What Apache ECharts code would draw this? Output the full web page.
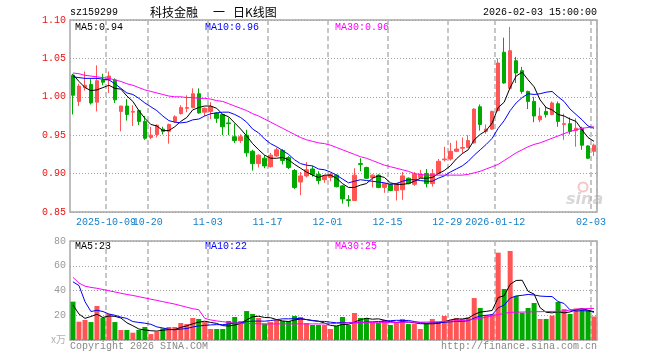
<!DOCTYPE html>
<html>
<head>
<meta charset="utf-8">
<script src="https://cdn.jsdelivr.net/npm/echarts@6/dist/echarts.min.js"></script>
<style>
html,body{margin:0;padding:0;background:#fff;}
#c{width:660px;height:360px;}
</style>
</head>
<body>
<div id="c"></div>
<script>
// ---------- data ----------
const dates = [
'2025-09-23','2025-09-24','2025-09-25','2025-09-26','2025-09-29','2025-09-30',
'2025-10-09','2025-10-10','2025-10-13','2025-10-14','2025-10-15','2025-10-16','2025-10-17',
'2025-10-20','2025-10-21','2025-10-22','2025-10-23','2025-10-24',
'2025-10-27','2025-10-28','2025-10-29','2025-10-30','2025-10-31',
'2025-11-03','2025-11-04','2025-11-05','2025-11-06','2025-11-07',
'2025-11-10','2025-11-11','2025-11-12','2025-11-13','2025-11-14',
'2025-11-17','2025-11-18','2025-11-19','2025-11-20','2025-11-21',
'2025-11-24','2025-11-25','2025-11-26','2025-11-27','2025-11-28',
'2025-12-01','2025-12-02','2025-12-03','2025-12-04','2025-12-05',
'2025-12-08','2025-12-09','2025-12-10','2025-12-11','2025-12-12',
'2025-12-15','2025-12-16','2025-12-17','2025-12-18','2025-12-19',
'2025-12-22','2025-12-23','2025-12-24','2025-12-25','2025-12-26',
'2025-12-29','2025-12-30','2025-12-31',
'2026-01-05','2026-01-06','2026-01-07','2026-01-08','2026-01-09',
'2026-01-12','2026-01-13','2026-01-14','2026-01-15','2026-01-16',
'2026-01-19','2026-01-20','2026-01-21','2026-01-22','2026-01-23',
'2026-01-26','2026-01-27','2026-01-28','2026-01-29','2026-01-30',
'2026-02-02','2026-02-03'
];
const openP = [1.028,0.994,1.012,1.016,0.993,1.022,1.022,1.022,0.981,0.988,
 0.980,0.982,0.968,0.947,0.951,0.958,0.955,0.968,0.978,0.985,
 0.986,1.004,0.980,0.981,0.979,0.977,0.966,0.948,0.943,0.950,
 0.929,0.913,0.920,0.909,0.923,0.930,0.921,0.904,0.889,0.897,
 0.906,0.899,0.892,0.895,0.898,0.884,0.866,0.865,0.913,0.908,
 0.895,0.898,0.882,0.886,0.878,0.879,0.894,0.886,0.895,0.900,
 0.887,0.900,0.918,0.919,0.929,0.933,0.934,0.940,0.987,0.955,
 0.958,0.982,1.058,1.011,1.047,1.034,1.007,0.994,0.970,0.981,
 0.977,0.991,0.964,0.965,0.956,0.959,0.936,0.929];
const closeP = [1.002,1.014,1.015,0.992,1.021,1.019,1.027,0.996,0.988,0.977,
 0.981,0.968,0.946,0.950,0.963,0.955,0.964,0.974,0.986,0.986,
 1.004,0.979,0.985,0.987,0.972,0.961,0.965,0.943,0.948,0.927,
 0.913,0.924,0.910,0.924,0.931,0.917,0.908,0.882,0.897,0.905,
 0.899,0.891,0.897,0.899,0.883,0.867,0.865,0.898,0.912,0.894,
 0.898,0.882,0.887,0.878,0.887,0.897,0.887,0.899,0.899,0.887,
 0.900,0.916,0.919,0.929,0.932,0.934,0.943,0.984,0.964,0.958,
 0.981,1.044,1.018,1.060,1.031,1.007,0.994,0.975,0.975,0.977,
 0.992,0.968,0.965,0.955,0.959,0.937,0.920,0.937];
const lowP = [0.977,0.988,1.008,0.990,0.981,1.015,1.005,0.992,0.955,0.969,
 0.962,0.963,0.944,0.945,0.947,0.951,0.939,0.966,0.977,0.980,
 0.985,0.978,0.975,0.971,0.966,0.950,0.950,0.940,0.940,0.922,
 0.904,0.908,0.907,0.908,0.922,0.912,0.906,0.880,0.872,0.895,
 0.896,0.886,0.888,0.890,0.882,0.861,0.857,0.865,0.903,0.893,
 0.882,0.881,0.875,0.877,0.865,0.866,0.886,0.884,0.894,0.882,
 0.883,0.900,0.916,0.917,0.928,0.927,0.933,0.939,0.956,0.952,
 0.957,0.981,1.017,1.010,1.018,1.004,0.984,0.967,0.967,0.973,
 0.976,0.961,0.944,0.951,0.935,0.931,0.919,0.923];
const highP = [1.030,1.017,1.033,1.023,1.041,1.030,1.033,1.024,0.988,0.997,
 0.989,0.983,0.975,0.961,0.964,0.961,0.965,0.976,0.989,1.002,
 1.011,1.011,0.986,0.993,0.980,0.978,0.973,0.965,0.951,0.957,
 0.931,0.925,0.924,0.927,0.934,0.932,0.923,0.906,0.902,0.915,
 0.910,0.903,0.898,0.901,0.899,0.885,0.872,0.907,0.920,0.909,
 0.899,0.899,0.888,0.887,0.888,0.902,0.895,0.902,0.905,0.906,
 0.906,0.919,0.935,0.940,0.943,0.947,0.950,0.985,0.990,0.964,
 0.982,1.050,1.077,1.091,1.052,1.039,1.008,1.000,0.986,0.988,
 0.994,0.994,0.978,0.973,0.972,0.961,0.937,0.939];
const ma5 = [1.029,1.020,1.012,1.008,1.009,1.012,1.015,1.011,1.010,1.001,
 0.994,0.982,0.972,0.964,0.962,0.956,0.956,0.961,0.968,0.973,
 0.983,0.986,0.988,0.988,0.985,0.977,0.974,0.966,0.958,0.949,
 0.939,0.931,0.924,0.920,0.920,0.921,0.918,0.912,0.907,0.902,
 0.898,0.895,0.898,0.898,0.894,0.887,0.882,0.882,0.885,0.887,
 0.894,0.897,0.895,0.888,0.886,0.886,0.887,0.890,0.894,0.894,
 0.895,0.900,0.904,0.910,0.919,0.926,0.931,0.944,0.951,0.956,
 0.966,0.986,0.993,1.012,1.027,1.032,1.022,1.013,0.996,0.986,
 0.983,0.977,0.975,0.971,0.968,0.957,0.947,0.942];
const ma10 = [1.026,1.025,1.024,1.024,1.024,1.023,1.022,1.017,1.011,1.005,
 1.003,0.998,0.992,0.987,0.982,0.975,0.969,0.967,0.966,0.967,
 0.970,0.971,0.975,0.978,0.979,0.980,0.980,0.977,0.973,0.967,
 0.958,0.953,0.945,0.939,0.935,0.930,0.925,0.918,0.913,0.911,
 0.910,0.906,0.905,0.902,0.898,0.893,0.888,0.890,0.892,0.891,
 0.890,0.889,0.888,0.886,0.887,0.890,0.892,0.892,0.891,0.890,
 0.890,0.894,0.897,0.902,0.906,0.910,0.916,0.924,0.931,0.938,
 0.946,0.959,0.969,0.982,0.992,0.999,1.004,1.003,1.004,1.006,
 1.007,1.000,0.994,0.984,0.977,0.970,0.962,0.959];
const ma30 = [1.031,1.030,1.028,1.027,1.026,1.025,1.024,1.022,1.020,1.017,
 1.015,1.012,1.009,1.007,1.005,1.003,1.001,1.000,1.000,0.999,
 0.999,0.998,0.998,0.997,0.995,0.994,0.991,0.988,0.985,0.982,
 0.978,0.975,0.971,0.967,0.963,0.959,0.955,0.951,0.947,0.944,
 0.942,0.940,0.939,0.937,0.934,0.931,0.928,0.925,0.922,0.920,
 0.917,0.914,0.911,0.909,0.907,0.905,0.903,0.900,0.899,0.898,
 0.898,0.898,0.898,0.898,0.898,0.898,0.899,0.901,0.903,0.906,
 0.909,0.912,0.917,0.922,0.927,0.931,0.935,0.938,0.940,0.943,
 0.946,0.949,0.952,0.955,0.957,0.959,0.960,0.961];
const vol = [31,14.8,16.2,14.5,27.5,18,21,14.5,8.1,8.1,
 5.9,8.1,10.5,4.8,6.7,9.4,10.5,10.5,13.7,12.9,
 17.8,17,14.5,8.9,8.9,8.9,15.4,18.6,15.4,23.4,
 21,17.8,13.2,14.5,16.2,15.4,15.4,19.4,18.6,13.7,
 12.1,12.1,12.1,8.9,11.3,18.6,12.1,21.8,17.8,17.8,
 14.5,13.7,16.2,12.1,14.5,17,12.9,12.9,8.9,13.7,
 17,14.5,19.4,16.2,17.8,17,18.3,33.9,25.9,20.2,
 21,70.6,41.2,71.9,35.6,22.1,25.9,29.9,17,17,
 19.7,30.7,25,21,25.5,25,24,19];
const vma5 = [28.3,21,17.5,19,20.8,18.2,19.4,19.1,17.8,13.9,
 11.5,8.9,8.1,7.5,7.2,7.9,8.4,8.4,10.2,11.4,
 13.1,14.4,15.2,14.2,13.4,11.6,11.3,12.1,13.4,16.3,
 18.8,19.2,18.2,18,16.5,15.4,14.9,16.2,17,16.5,
 15.8,15.2,13.7,11.8,11.3,12.6,12.6,14.5,16.3,17.6,
 16.8,17.1,16,14.9,14.2,14.7,14.5,13.9,13.2,13.1,
 13.1,13.4,14.7,16.2,17,17,17.7,20.6,22.6,23.1,
 23.9,34.3,35.8,45,48.1,48.3,39.3,37.1,26.1,22.4,
 21.9,22.9,21.9,22.7,24.4,25.4,24.1,22.9];
const vma10 = [47,44,31,23,24,23,21,20,18.5,17.4,
 14.9,14.2,13.6,12.7,10.6,9.7,8.7,8.3,8.8,9.3,
 10.5,11.4,11.8,12.2,12.4,12.4,12.9,13.7,13.8,14.9,
 15.2,15.3,15.2,15.7,16.4,17.1,17.1,17.2,17.5,16.5,
 15.6,15.1,15,14.4,13.9,14.2,13.9,14.1,14.1,14.5,
 14.7,14.9,15.3,15.6,15.9,15.8,15.8,14.9,14.1,13.6,
 13.9,14,14.3,14.7,15,15,15.6,17.7,19.4,20,
 20.4,26,28.2,33.8,35.6,36.1,36.8,36.4,35.5,35.2,
 35.1,31.1,29.5,24.4,23.4,23.7,23.5,22.4];
const vma30 = [50.6,46,43.5,42.5,41.8,40.8,39.8,38.8,37.8,36.8,
 36,35,34,33,32,31,30,29,27.8,26.5,
 25.3,24.5,17.5,16.2,15.4,14.8,14.2,13.7,13.5,13.3,
 13.2,13.1,13,13,13,13,13,13,13,13,
 13,13,13,13.2,13.4,13.6,13.8,14,14,14,
 14,14,14.1,14.2,14.2,14.3,14.3,14.4,14.4,14.5,
 14.6,14.8,15,15.2,15.5,15.8,16.2,16.8,17.5,18.5,
 19.5,20.5,21.5,22.3,22.5,22.6,22.7,22.8,22.9,23,
 23.1,23.2,23.4,24.2,24.8,25.2,25.4,25.5];
const labelDates = ['2025-10-09','2025-10-20','2025-11-03','2025-11-17','2025-12-01','2025-12-15','2025-12-29','2026-01-12','2026-02-03'];
const labelTexts = ['2025-10-09','10-20','11-03','11-17','12-01','12-15','12-29','2026-01-12','02-03'];
const priceTicks = {min: 0.85, max: 1.10, step: 0.05};
const volTicks = {min: 0, max: 80, step: 20};
const priceLegend = ['MA5:0.94','MA10:0.96','MA30:0.96'];
const volLegend = ['MA5:23','MA10:22','MA30:25'];
const titleCode = 'sz159299';
const titleName = ['科技金融','一','日K线图'];
const stamp = '2026-02-03 15:00:00';
const volUnit = 'x万';
const footLeft = 'Copyright 2026 SINA.COM';
const footRight = 'http://finance.sina.com.cn';

// ---------- chart ----------
const UP = '#ff5555', DOWN = '#00a800';
const MONO = 'Liberation Mono';
const isLabel = (i, v) => labelDates.indexOf(v) >= 0;
const vSplit = {show: true, interval: isLabel,
  lineStyle: {color: '#b4b4b4', type: [5, 3], width: 1.5}};
const hSplit = {show: true, lineStyle: {color: '#a0a0a0', type: [1, 2], width: 1}};

const ohlc = dates.map((d, i) => [openP[i], closeP[i], lowP[i], highP[i]]);
const volData = vol.map((v, i) => ({value: v, itemStyle: {color: closeP[i] >= openP[i] ? UP : DOWN}}));

function line(data, color, xi) {
  return {type: 'line', data: data, xAxisIndex: xi, yAxisIndex: xi, symbol: 'none', silent: true,
    lineStyle: {color: color, width: 1}, z: 5};
}
function txt(x, y, text, color, align, size, family) {
  return {type: 'text', x: x, y: y, silent: true,
    style: {text: text, fill: color, align: align || 'left', verticalAlign: 'middle',
      fontSize: size || 10, fontFamily: family || MONO}};
}

const chart = echarts.init(document.getElementById('c'), null, {renderer: 'canvas'});
chart.setOption({
  animation: false,
  backgroundColor: '#fff',
  textStyle: {fontFamily: MONO, fontSize: 10},
  grid: [
    {left: 70, top: 20, width: 527, height: 192, show: true, borderColor: '#a8a8a8', borderWidth: 1.5},
    {left: 70, top: 241, width: 527, height: 99, show: true, borderColor: '#a8a8a8', borderWidth: 1.5}
  ],
  xAxis: [
    {type: 'category', gridIndex: 0, data: dates, boundaryGap: true,
      axisLine: {show: false}, axisTick: {show: false},
      axisLabel: {interval: 0, hideOverlap: false,
        formatter: v => { const k = labelDates.indexOf(v); return k >= 0 ? labelTexts[k] : ''; },
        color: '#1580c8', fontSize: 10, fontFamily: MONO, margin: 5, padding: [0, 6, 0, 0]},
      splitLine: vSplit},
    {type: 'category', gridIndex: 1, data: dates, boundaryGap: true,
      axisLine: {show: false}, axisTick: {show: false}, axisLabel: {show: false},
      splitLine: vSplit}
  ],
  yAxis: [
    {type: 'value', gridIndex: 0, min: priceTicks.min, max: priceTicks.max, interval: priceTicks.step,
      axisLine: {show: false}, axisTick: {show: false},
      axisLabel: {color: '#ee1111', fontSize: 10, fontFamily: MONO, margin: 4, formatter: v => v.toFixed(2)},
      splitLine: hSplit},
    {type: 'value', gridIndex: 1, min: volTicks.min, max: volTicks.max, interval: volTicks.step,
      axisLine: {show: false}, axisTick: {show: false},
      axisLabel: {color: '#999', fontSize: 10, fontFamily: MONO, margin: 4, formatter: v => v === 0 ? '' : String(v)},
      splitLine: hSplit}
  ],
  series: [
    {type: 'candlestick', xAxisIndex: 0, yAxisIndex: 0, data: ohlc, barWidth: 4, silent: true,
      itemStyle: {color: UP, color0: DOWN, borderColor: UP, borderColor0: DOWN, borderWidth: 1}},
    line(ma5, '#000000', 0),
    line(ma10, '#0000ff', 0),
    line(ma30, '#ff00ff', 0),
    {type: 'bar', xAxisIndex: 1, yAxisIndex: 1, data: volData, barWidth: 5, silent: true},
    line(vma5, '#000000', 1),
    line(vma10, '#0000ff', 1),
    line(vma30, '#ff00ff', 1)
  ],
  graphic: [
    txt(70, 12, titleCode, '#000'),
    txt(150, 12, titleName[0], '#000', 'left', 12, 'Noto Sans CJK SC'),
    txt(213, 12, titleName[1], '#000', 'left', 12, 'Noto Sans CJK SC'),
    txt(233, 12, titleName[2], '#000', 'left', 12, 'Noto Sans CJK SC'),
    txt(597, 12, stamp, '#000', 'right'),
    txt(75, 27, priceLegend[0], '#000'),
    txt(205, 27, priceLegend[1], '#0000ff'),
    txt(335, 27, priceLegend[2], '#ff00ff'),
    txt(75, 246, volLegend[0], '#000'),
    txt(205, 246, volLegend[1], '#0000ff'),
    txt(335, 246, volLegend[2], '#ff00ff'),
    txt(66, 339, volUnit, '#b0b0b0', 'right', 10, 'Noto Sans CJK SC'),
    txt(70, 346, footLeft, '#888'),
    txt(597, 346, footRight, '#888', 'right'),
    {type: 'circle', shape: {cx: 583, cy: 187, r: 4.5}, silent: true,
      style: {fill: 'none', stroke: 'rgba(235,90,90,0.35)', lineWidth: 2}},
    {type: 'text', x: 566, y: 200, silent: true,
      style: {text: 'sina', fill: 'rgba(140,140,140,0.35)', fontSize: 16, fontWeight: 'bold', fontStyle: 'italic',
        fontFamily: 'DejaVu Sans', align: 'left', verticalAlign: 'middle'}}
  ]
});
</script>
</body>
</html>
